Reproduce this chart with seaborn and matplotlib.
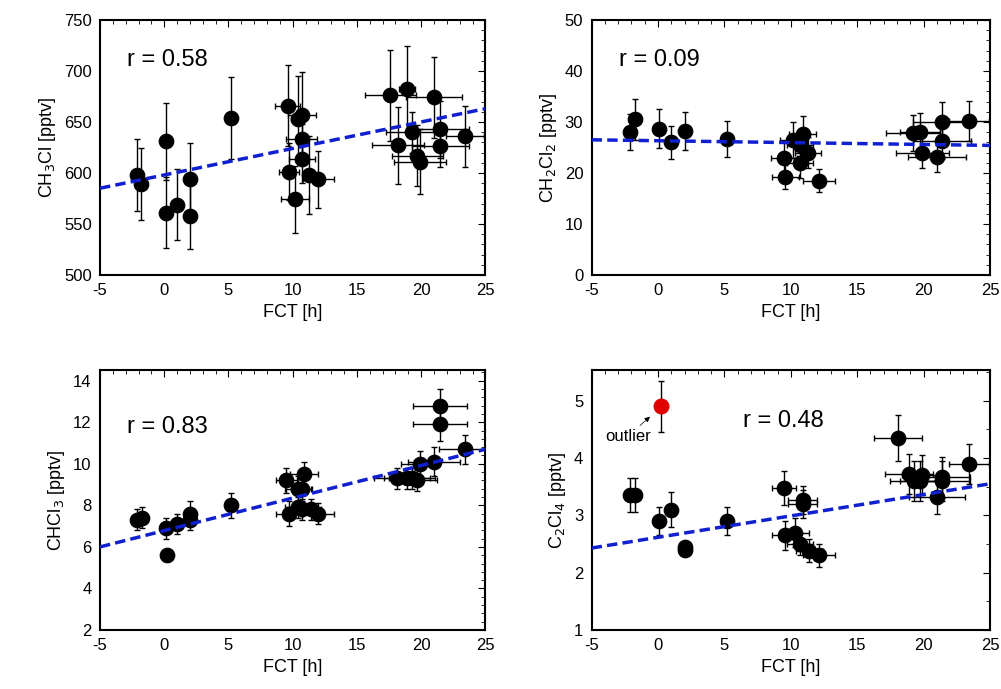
import numpy as np
import pandas as pd
import seaborn as sns
import matplotlib.pyplot as plt
from matplotlib.ticker import AutoMinorLocator

# CH3Cl
x1 = [-2.1, -1.8, 0.1, 0.1, 1.0, 2.0, 2.0, 5.2, 9.6, 9.7, 10.2, 10.4, 10.7, 10.7, 10.7, 11.3, 12.0,
      17.6, 18.2, 18.9, 19.3, 19.7, 19.9, 21.0, 21.5, 21.5, 23.4]
y1 = [598, 589, 631, 561, 569, 594, 558, 654, 666, 601, 574, 653, 657, 633, 614, 598, 594,
      676, 627, 682, 640, 617, 611, 674, 643, 626, 636]
xe1 = [0.1, 0.1, 0.1, 0.1, 0.1, 0.1, 0.1, 0.3, 1.0, 0.8, 1.1, 0.5, 1.1, 1.2, 1.0, 0.5, 1.2,
       2.0, 2.0, 0.6, 2.0, 2.0, 2.0, 2.2, 2.2, 2.2, 1.5]
ye1 = [35, 35, 38, 35, 35, 35, 33, 40, 40, 28, 33, 42, 42, 15, 24, 38, 28,
       45, 38, 42, 20, 30, 32, 40, 28, 20, 30]
line1 = [585, 663]

# CH2Cl2
x2 = [-2.1, -1.7, 0.1, 1.0, 2.0, 5.2, 9.5, 9.6, 10.2, 10.7, 10.9, 10.7, 11.3, 12.1,
      19.2, 19.7, 19.9, 21.0, 21.4, 21.4, 23.4]
y2 = [28.0, 30.5, 28.7, 26.0, 28.2, 26.7, 23.0, 19.3, 26.4, 22.0, 27.7, 25.5, 24.0, 18.5,
      27.8, 28.0, 24.0, 23.2, 30.0, 26.2, 30.2]
xe2 = [0.1, 0.1, 0.1, 0.1, 0.1, 0.1, 1.0, 1.0, 1.0, 1.0, 1.0, 1.0, 1.0, 1.2,
       2.0, 1.5, 2.0, 2.2, 2.2, 2.2, 1.5]
ye2 = [3.5, 4.0, 3.8, 3.3, 3.7, 3.5, 3.0, 2.5, 3.5, 3.0, 3.5, 3.0, 3.0, 2.3,
       3.5, 3.7, 3.0, 3.0, 4.0, 3.5, 4.0]
line2 = [26.5, 25.4]

# CHCl3
x3 = [-2.1, -1.7, 0.1, 0.2, 1.0, 2.0, 2.0, 5.2, 9.5, 9.7, 10.4, 10.7, 10.9, 10.4, 10.7, 11.4, 12.0,
      18.1, 18.9, 19.3, 19.7, 19.9, 21.0, 21.5, 21.5, 23.4]
y3 = [7.3, 7.4, 6.9, 5.6, 7.1, 7.6, 7.3, 8.0, 9.2, 7.6, 8.8, 8.8, 9.5, 7.9, 7.8, 7.8, 7.6,
      9.3, 9.3, 9.3, 9.2, 10.0, 10.1, 12.8, 11.9, 10.7]
xe3 = [0.1, 0.1, 0.1, 0.1, 0.1, 0.1, 0.1, 0.3, 0.8, 1.0, 1.0, 0.8, 1.1, 1.0, 1.0, 0.8, 1.2,
       1.8, 1.8, 1.8, 1.5, 1.5, 2.0, 2.1, 2.1, 2.0]
ye3 = [0.5, 0.5, 0.5, 0.3, 0.5, 0.6, 0.5, 0.6, 0.6, 0.6, 0.6, 0.6, 0.6, 0.5, 0.5, 0.5, 0.5,
       0.5, 0.5, 0.5, 0.5, 0.6, 0.7, 0.8, 0.8, 0.7]
line3 = [6.0, 10.7]

# C2Cl4
x4 = [-2.1, -1.7, 0.1, 1.0, 2.0, 2.0, 5.2, 9.5, 9.6, 10.3, 10.7, 10.9, 10.9, 11.4, 12.1,
      18.1, 18.9, 19.3, 19.7, 19.9, 21.0, 21.4, 21.4, 23.4]
y4 = [3.35, 3.35, 2.9, 3.1, 2.4, 2.45, 2.9, 3.48, 2.65, 2.7, 2.5, 3.2, 3.27, 2.38, 2.3,
      4.35, 3.72, 3.6, 3.6, 3.7, 3.32, 3.66, 3.6, 3.9]
xe4 = [0.1, 0.1, 0.1, 0.1, 0.1, 0.1, 0.3, 0.9, 1.0, 1.1, 1.0, 1.1, 1.1, 1.0, 1.2,
       1.8, 1.8, 1.8, 1.5, 1.5, 2.1, 2.1, 2.1, 1.5]
ye4 = [0.3, 0.3, 0.25, 0.3, 0.1, 0.1, 0.25, 0.3, 0.25, 0.25, 0.2, 0.25, 0.25, 0.2, 0.2,
       0.4, 0.35, 0.35, 0.35, 0.35, 0.3, 0.35, 0.35, 0.35]
line4 = [2.43, 3.55]
outlier = (0.2, 4.9, 0.45)

sns.set_style("white")
plt.rcParams['font.family'] = ['Liberation Sans', 'DejaVu Sans']
plt.rcParams['axes.unicode_minus'] = False
plt.rcParams['text.color'] = 'black'
plt.rcParams['axes.labelcolor'] = 'black'
plt.rcParams['xtick.color'] = 'black'
plt.rcParams['ytick.color'] = 'black'

fig = plt.figure(figsize=(10.01, 6.89), dpi=100)
boxes = [[0.0999, 0.601, 0.385, 0.370], [0.591, 0.601, 0.398, 0.370],
         [0.0999, 0.0856, 0.385, 0.377], [0.591, 0.0856, 0.398, 0.377]]
panels = [
    (x1, y1, xe1, ye1, line1, (500, 750), 50, 'CH$_3$Cl [pptv]', 'r = 0.58', (0.07, 0.82)),
    (x2, y2, xe2, ye2, line2, (0, 50), 10, 'CH$_2$Cl$_2$ [pptv]', 'r = 0.09', (0.07, 0.82)),
    (x3, y3, xe3, ye3, line3, (2, 14.5), 2, 'CHCl$_3$ [pptv]', 'r = 0.83', (0.07, 0.76)),
    (x4, y4, xe4, ye4, line4, (1, 5.53), 1, 'C$_2$Cl$_4$ [pptv]', 'r = 0.48', (0.38, 0.78)),
]

for i, (x, y, xe, ye, ln, ylim, step, ylab, rtxt, rpos) in enumerate(panels):
    ax = fig.add_axes(boxes[i])
    df = pd.DataFrame({'FCT': x, 'val': y})
    ax.errorbar(x, y, xerr=xe, yerr=ye, fmt='none', ecolor='black', elinewidth=1,
                capsize=2, capthick=1, zorder=2)
    sns.scatterplot(data=df, x='FCT', y='val', ax=ax, color='black', s=110,
                    edgecolor='black', zorder=3, legend=False)
    sns.lineplot(x=[-5, 25], y=ln, ax=ax, color='#1020d0', lw=2.5, ls=(0, (3, 1.5)), zorder=4)
    ax.set_xlim(-5, 25)
    ax.set_ylim(*ylim)
    ax.set_xticks(np.arange(-5, 26, 5))
    ax.set_yticks(np.arange(ylim[0], ylim[1] + 0.01, step))
    ax.xaxis.set_minor_locator(AutoMinorLocator(5))
    ax.yaxis.set_minor_locator(AutoMinorLocator(5 if i != 3 else 2))
    ax.tick_params(which='both', direction='in', top=True, right=True, labelsize=12, pad=6)
    ax.tick_params(which='major', length=5)
    ax.tick_params(which='minor', length=3)
    for s in ax.spines.values():
        s.set_linewidth(1.5)
        s.set_color('black')
    ax.set_xlabel('FCT [h]', fontsize=13, labelpad=4)
    ax.set_ylabel(ylab, fontsize=13)
    ax.text(rpos[0], rpos[1], rtxt, transform=ax.transAxes, fontsize=17)
    if i == 3:
        ax.errorbar([outlier[0]], [outlier[1]], yerr=[outlier[2]], fmt='none',
                    ecolor='black', elinewidth=1, capsize=2, zorder=2)
        ax.scatter([outlier[0]], [outlier[1]], s=110, color='#e00000', zorder=3)
        ax.annotate('outlier', xy=(-0.6, 4.72), xytext=(-4.0, 4.3), fontsize=12,
                    arrowprops=dict(arrowstyle='-|>', color='black', lw=0.5,
                                    mutation_scale=8, shrinkA=0, shrinkB=0))

fig.savefig('out.png', dpi=100)
